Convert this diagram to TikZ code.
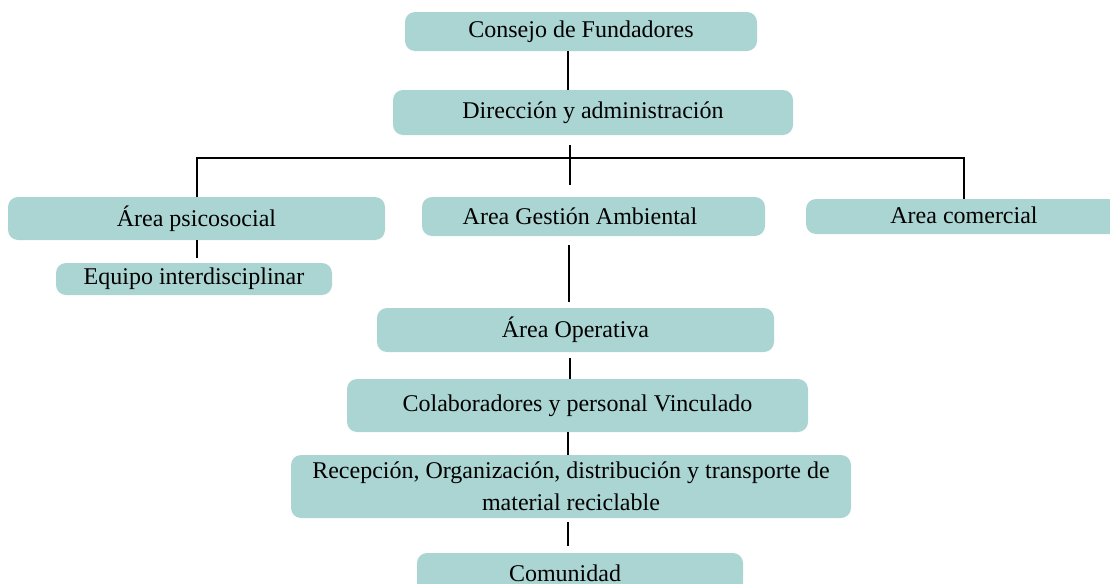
\documentclass[tikz,border=0pt]{standalone}
\usepackage{fontspec}
\setmainfont{Liberation Serif}
\definecolor{boxteal}{RGB}{170,213,211}
\begin{document}
\begin{tikzpicture}[x=0.5pt, y=-0.5pt,
    unit/.style={fill=boxteal, rounded corners=5pt, inner sep=0pt,
        font=\fontsize{12}{16}\selectfont, align=center},
    link/.style={line width=1pt, black}]
    % Canvas
    \path[use as bounding box, clip] (0,0) rectangle (1110,584);

    % Top levels
    \node[unit, minimum width=176pt, minimum height=19.5pt] (consejo) at (581,31.5) {Consejo de Fundadores};
    \node[unit, minimum width=200pt, minimum height=22.5pt] (direccion) at (593,112.5) {Dirección y administración};

    % Areas
    \node[unit, minimum width=188.5pt, minimum height=21.5pt] (psico) at (196.5,218.5) {Área psicosocial};
    \node[unit, minimum width=171.5pt, minimum height=19.5pt,
        label={[font=\fontsize{12}{16}\selectfont, xshift=-6.75pt]center:Area Gestión Ambiental}] (gestion) at (593.5,216.5) {};
    \node[unit, minimum width=158pt, minimum height=17.5pt] (comercial) at (964,216.5) {\raisebox{1.2pt}{Area comercial}};
    \node[unit, minimum width=138pt, minimum height=16pt] (equipo) at (194,279) {\raisebox{1.5pt}{Equipo interdisciplinar}};

    % Operative chain
    \node[unit, minimum width=198.5pt, minimum height=22pt] (operativa) at (575.5,330) {Área Operativa};
    \node[unit, minimum width=230.5pt, minimum height=26.5pt] (colab) at (577.5,405.5) {\raisebox{1.5pt}{Colaboradores y personal Vinculado}};
    \node[unit, minimum width=280pt, minimum height=31.5pt] (recepcion) at (571,486.5) {Recepción, Organización, distribución y transporte de\\material reciclable};
    \node[unit, minimum width=163pt, minimum height=20pt,
        label={[font=\fontsize{12}{16}\selectfont, xshift=-7.5pt]center:Comunidad}] (comunidad) at (580,573) {};

    % Spines
    \coordinate (topx) at (568,0);
    \coordinate (spine) at (570,0);
    \coordinate (bus) at (570,158);
    \coordinate (psx) at (197,0);
    \coordinate (opx) at (569,0);
    \coordinate (rcx) at (567.5,0);

    % Connectors
    \draw[link] (consejo.south -| topx) -- (direccion.north -| topx);
    \draw[link] ([yshift=-5pt]direccion.south -| spine) -- ([yshift=6pt]gestion.north -| spine);
    \draw[link] (psico.north) |- (bus) -| (comercial.north);
    \draw[link] (psico.south -| psx) -- ([yshift=2.5pt]equipo.north -| psx);
    \draw[link] ([yshift=-4.5pt]gestion.south -| opx) -- ([yshift=3pt]operativa.north -| opx);
    \draw[link] ([yshift=-3pt]operativa.south -| spine) -- (colab.north -| spine);
    \draw[link] (colab.south -| topx) -- (recepcion.north -| topx);
    \draw[link] ([yshift=-2pt]recepcion.south -| rcx) -- ([yshift=3.5pt]comunidad.north -| rcx);
\end{tikzpicture}
\end{document}
